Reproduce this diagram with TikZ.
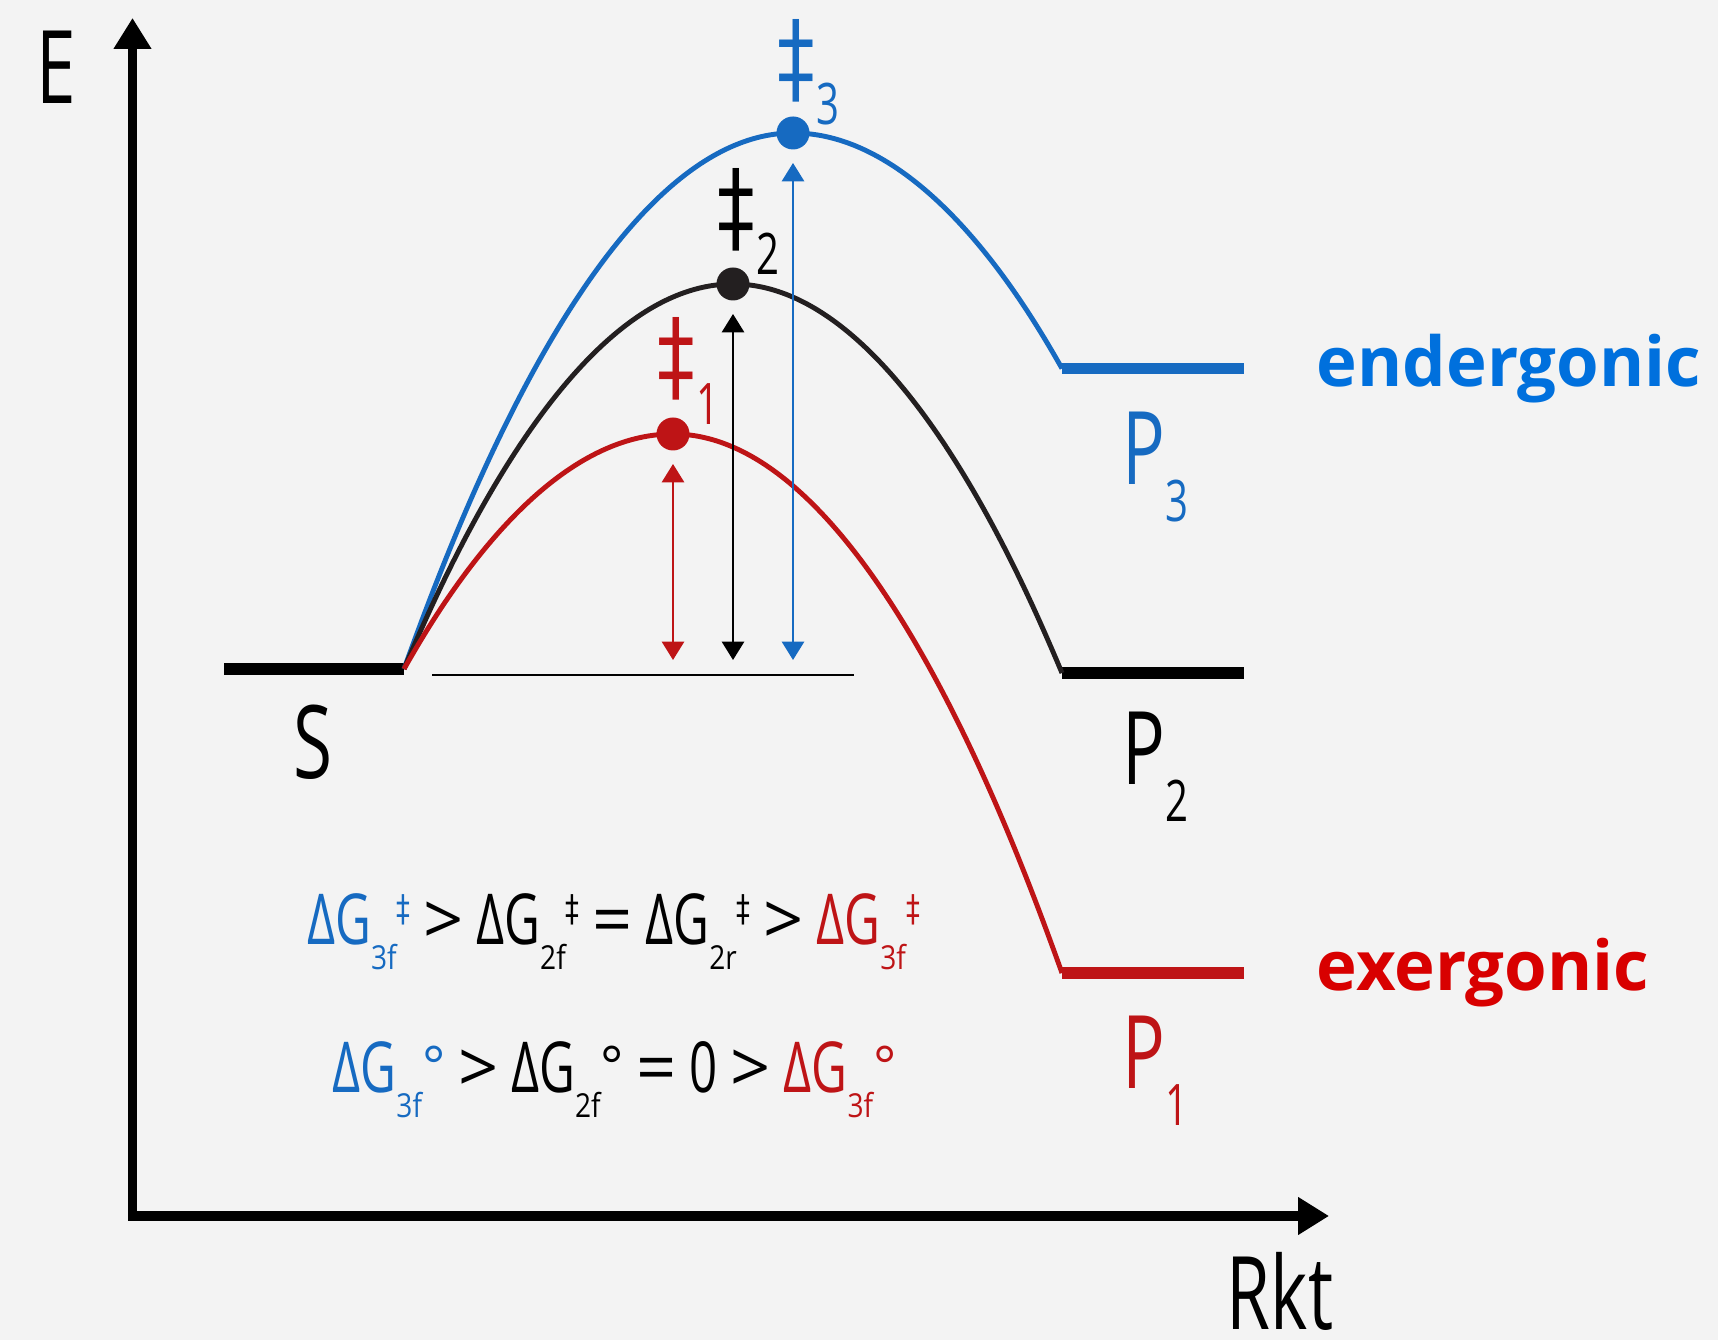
\documentclass[tikz,border=0pt]{standalone}
\usepackage{fontspec}
\setmainfont{Open Sans}[FakeStretch=0.70]
\newfontfamily\widefont{Open Sans}
\newfontfamily\midfont{Open Sans}[FakeStretch=0.85]
\newfontfamily\dagfont{DejaVu Sans}[FakeStretch=0.75]
\usetikzlibrary{arrows.meta}

\definecolor{bgcol}{RGB}{243,243,243}
\definecolor{eblue}{RGB}{22,106,193}
\definecolor{ered}{RGB}{190,20,22}
\definecolor{eblack}{RGB}{35,31,32}
\definecolor{tblue}{RGB}{0,112,221}
\definecolor{tred}{RGB}{216,0,0}

% Delta G with index and double dagger / degree sign
\newcommand{\dG}[2]{{\color{#1}ΔG\raisebox{-7.1pt}{\midfont\fontsize{9.4}{10}\selectfont #2}\raisebox{6.8pt}{\dagfont\fontsize{10.5}{11}\selectfont ‡}}}
\newcommand{\dGo}[2]{{\color{#1}ΔG\raisebox{-7.1pt}{\midfont\fontsize{9.4}{10}\selectfont #2}\raisebox{2.2pt}{\widefont\fontsize{15.5}{16}\selectfont °}}}
\newcommand{\op}[1]{{\widefont #1}}

\begin{document}
\begin{tikzpicture}[
  axis/.style={line width=2.6pt, >={Triangle[length=8.8pt,width=10.2pt]}, <->},
  level/.style={line width=3.3pt},
  curve/.style={line width=1.4pt},
  gap/.style={line width=0.6pt, >={Triangle[length=5.2pt,width=6.3pt]}, <->,
    shorten <=0.3cm, shorten >=0.15cm},
  ts/.style={circle, fill, inner sep=0pt, minimum size=0.33cm},
  big/.style={font=\fontsize{28.9}{30}\selectfont, inner sep=0pt, anchor=base},
  dd/.style={font=\dagfont\fontsize{28.5}{30}\selectfont, inner sep=0pt},
  idx/.style={font=\fontsize{16.3}{18}\selectfont, inner sep=0pt, anchor=base},
  rel/.style={font=\fontsize{20}{24}\selectfont, inner sep=0pt, anchor=base},
  kind/.style={font=\widefont\bfseries\fontsize{19.6}{24}\selectfont, inner sep=0pt, anchor=base west}
]
\fill[bgcol] (0,0) rectangle (17.18,13.40);
\useasboundingbox (0,0) rectangle (17.18,13.40);

% Axes
\draw[axis] (1.325,13.22) |- (13.29,1.24);
\node[big] (elab) at (0.56,12.36) {E};
\node[big] (rlab) at (12.80,0.10) {Rkt};

% Levels
\coordinate (sl) at (2.24,6.71);
\coordinate (sr) at (4.04,6.71);
\draw[level, black] (sl) -- (sr);
\draw[level, ered] (10.62,3.67) coordinate (p1) -- (12.44,3.67);
\draw[level, black] (10.62,6.67) coordinate (p2) -- (12.44,6.67);
\draw[level, eblue] (10.62,9.715) coordinate (p3) -- (12.44,9.715);

% Peaks
\coordinate (pk1) at (6.73,9.06);
\coordinate (pk2) at (7.33,10.56);
\coordinate (pk3) at (7.93,12.07);

% Reaction paths
\draw[curve, eblue] (sr) parabola bend (pk3) (p3);
\draw[curve, eblack] (sr) parabola bend (pk2) (p2);
\draw[curve, ered] (sr) parabola bend (pk1) (p1);

% Transition states
\node[ts, ered] (ts1) at (pk1) {};
\node[ts, eblack] (ts2) at (pk2) {};
\node[ts, eblue] (ts3) at (pk3) {};

% Activation energies
\draw[line width=0.75pt] (4.32,6.65) coordinate (gbl) -- (8.54,6.65);
\foreach \k/\c in {1/ered,2/black,3/eblue}
  \draw[gap, \c] (ts\k.center) -- (ts\k |- gbl);

\node[dd, ered] (dd1) at (6.76,9.81) {‡};
\node[idx, ered] (n1) at (7.075,9.15) {1};
\node[dd, black] (dd2) at (7.36,11.30) {‡};
\node[idx, black] (n2) at (7.68,10.65) {2};
\node[dd, eblue] (dd3) at (7.96,12.79) {‡};
\node[idx, eblue] (n3) at (8.28,12.15) {3};

% Labels
\node[big] (slab) at (3.13,5.61) {S};
\node[big, ered] (p1lab) at (11.555,2.51) {P\raisebox{-10.5pt}{\fontsize{16.3}{18}\selectfont 1}};
\node[big, black] (p2lab) at (11.555,5.55) {P\raisebox{-10.5pt}{\fontsize{16.3}{18}\selectfont 2}};
\node[big, eblue] (p3lab) at (11.555,8.55) {P\raisebox{-10.5pt}{\fontsize{16.3}{18}\selectfont 3}};

\node[kind, tblue] (ender) at (13.16,9.53) {endergonic};
\node[kind, tred] (exer) at (13.16,3.49) {exergonic};

% Relations
\node[rel] (eq1) at (6.135,3.95) {\dG{eblue}{3f} \op{>} \dG{black}{2f} \op{=} \dG{black}{2r} \op{>} \dG{ered}{3f}};
\node[rel] (eq2) at (6.145,2.47) {\dGo{eblue}{3f} \op{>} \dGo{black}{2f} \op{=} 0 \op{>} \dGo{ered}{3f}};

\end{tikzpicture}
\end{document}
